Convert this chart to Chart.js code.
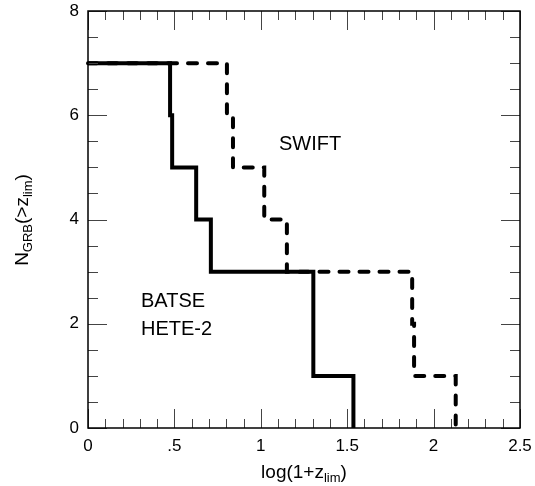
<!DOCTYPE html>
<html>
<head>
<meta charset="utf-8">
<script src="https://cdn.jsdelivr.net/npm/chart.js@4/dist/chart.umd.min.js"></script>
<style>
  html, body { margin: 0; padding: 0; background: #fff; }
  #wrap { width: 535px; height: 486px; }
</style>
</head>
<body>
<div id="wrap"><canvas id="chart"></canvas></div>
<script>
// step positions (log(1+z_lim), N)
const batseX = [0, 0.475, 0.487, 0.626, 0.711, 1.304, 1.536];
const batseY = [7, 6, 5, 4, 3, 1, 0];
const swiftX = [0, 0.804, 0.839, 1.02, 1.151, 1.876, 1.887, 2.128];
const swiftY = [7, 6, 5, 4, 3, 2, 1, 0];

const xTicks = [0, 0.5, 1, 1.5, 2, 2.5];
const xTickLabels = ['0', '.5', '1', '1.5', '2', '2.5'];
const yTicks = [0, 2, 4, 6, 8];
const yTickLabels = ['0', '2', '4', '6', '8'];

const FONT = '"Liberation Sans", Arial, sans-serif';

const toPoints = (xs, ys) => xs.map((x, i) => ({ x: x, y: ys[i] }));

// frame, inward ticks, axis titles and the two text labels
const framePlugin = {
  id: 'frame',
  afterDraw(chart) {
    const ctx = chart.ctx;
    const a = chart.chartArea;
    const xs = chart.scales.x, ys = chart.scales.y;
    ctx.save();
    ctx.strokeStyle = '#444';
    ctx.lineWidth = 1;
    for (let i = 0; i <= 25; i++) {
      const px = Math.round(xs.getPixelForValue(i / 10)) + 0.5;
      const len = i % 5 === 0 ? 19 : 9;
      ctx.beginPath();
      ctx.moveTo(px, a.bottom); ctx.lineTo(px, a.bottom - len);
      ctx.moveTo(px, a.top); ctx.lineTo(px, a.top + len);
      ctx.stroke();
    }
    for (let i = 0; i <= 16; i++) {
      const py = Math.round(ys.getPixelForValue(i / 2)) + 0.5;
      const len = i % 4 === 0 ? 19 : 10;
      ctx.beginPath();
      ctx.moveTo(a.left, py); ctx.lineTo(a.left + len, py);
      ctx.moveTo(a.right, py); ctx.lineTo(a.right - len, py);
      ctx.stroke();
    }
    ctx.strokeStyle = '#000';
    ctx.lineWidth = 1.5;
    ctx.strokeRect(a.left, a.top, a.right - a.left, a.bottom - a.top);

    ctx.fillStyle = '#000';
    ctx.textBaseline = 'alphabetic';
    ctx.font = '20px ' + FONT;
    ctx.textAlign = 'left';
    ctx.fillText('SWIFT', 279, 150);
    ctx.fillText('BATSE', 141, 307);
    ctx.fillText('HETE-2', 141, 335);

    // pieces: [text, isSub]
    const drawRich = (parts, cx, cy) => {
      let w = 0;
      parts.forEach(p => {
        ctx.font = (p[1] ? '13px ' : '19px ') + FONT;
        w += ctx.measureText(p[0]).width;
      });
      let x = cx - w / 2;
      parts.forEach(p => {
        ctx.font = (p[1] ? '13px ' : '19px ') + FONT;
        ctx.fillText(p[0], x, cy + (p[1] ? 4 : 0));
        x += ctx.measureText(p[0]).width;
      });
    };
    drawRich([['log(1+z', false], ['lim', true], [')', false]], 304, 478);
    ctx.translate(28, 220);
    ctx.rotate(-Math.PI / 2);
    drawRich([['N', false], ['GRB', true], ['(>z', false], ['lim', true], [')', false]], 0, 0);
    ctx.restore();
  }
};

new Chart(document.getElementById('chart'), {
  type: 'scatter',
  data: {
    datasets: [
      {
        label: 'BATSE HETE-2',
        data: toPoints(batseX, batseY),
        showLine: true,
        stepped: true,
        borderColor: '#000',
        borderWidth: 4,
        pointRadius: 0,
        fill: false,
        clip: false
      },
      {
        label: 'SWIFT',
        data: toPoints(swiftX, swiftY),
        showLine: true,
        stepped: true,
        borderColor: '#000',
        borderWidth: 4,
        borderDash: [9, 11],
        borderCapStyle: 'round',
        pointRadius: 0,
        fill: false,
        clip: false
      }
    ]
  },
  options: {
    responsive: true,
    maintainAspectRatio: false,
    animation: false,
    layout: { padding: { top: 11, right: 15, left: 0, bottom: 0 } },
    scales: {
      x: {
        type: 'linear',
        min: 0,
        max: 2.5,
        afterFit: s => { s.height = 58; s.paddingLeft = 0; s.paddingRight = 0; },
        afterBuildTicks: s => { s.ticks = xTicks.map(v => ({ value: v })); },
        grid: { display: false, drawTicks: false },
        border: { display: false },
        ticks: {
          padding: 8,
          color: '#000',
          font: { family: FONT, size: 17 },
          maxRotation: 0,
          callback: (v) => xTickLabels[xTicks.indexOf(v)]
        }
      },
      y: {
        type: 'linear',
        min: 0,
        max: 8,
        afterFit: s => { s.width = 88; s.paddingTop = 0; s.paddingBottom = 0; },
        afterBuildTicks: s => { s.ticks = yTicks.map(v => ({ value: v })); },
        grid: { display: false, drawTicks: false },
        border: { display: false },
        ticks: {
          padding: 9,
          color: '#000',
          font: { family: FONT, size: 17 },
          callback: (v) => yTickLabels[yTicks.indexOf(v)]
        }
      }
    },
    plugins: {
      legend: { display: false },
      tooltip: { enabled: false }
    }
  },
  plugins: [framePlugin]
});
</script>
</body>
</html>
